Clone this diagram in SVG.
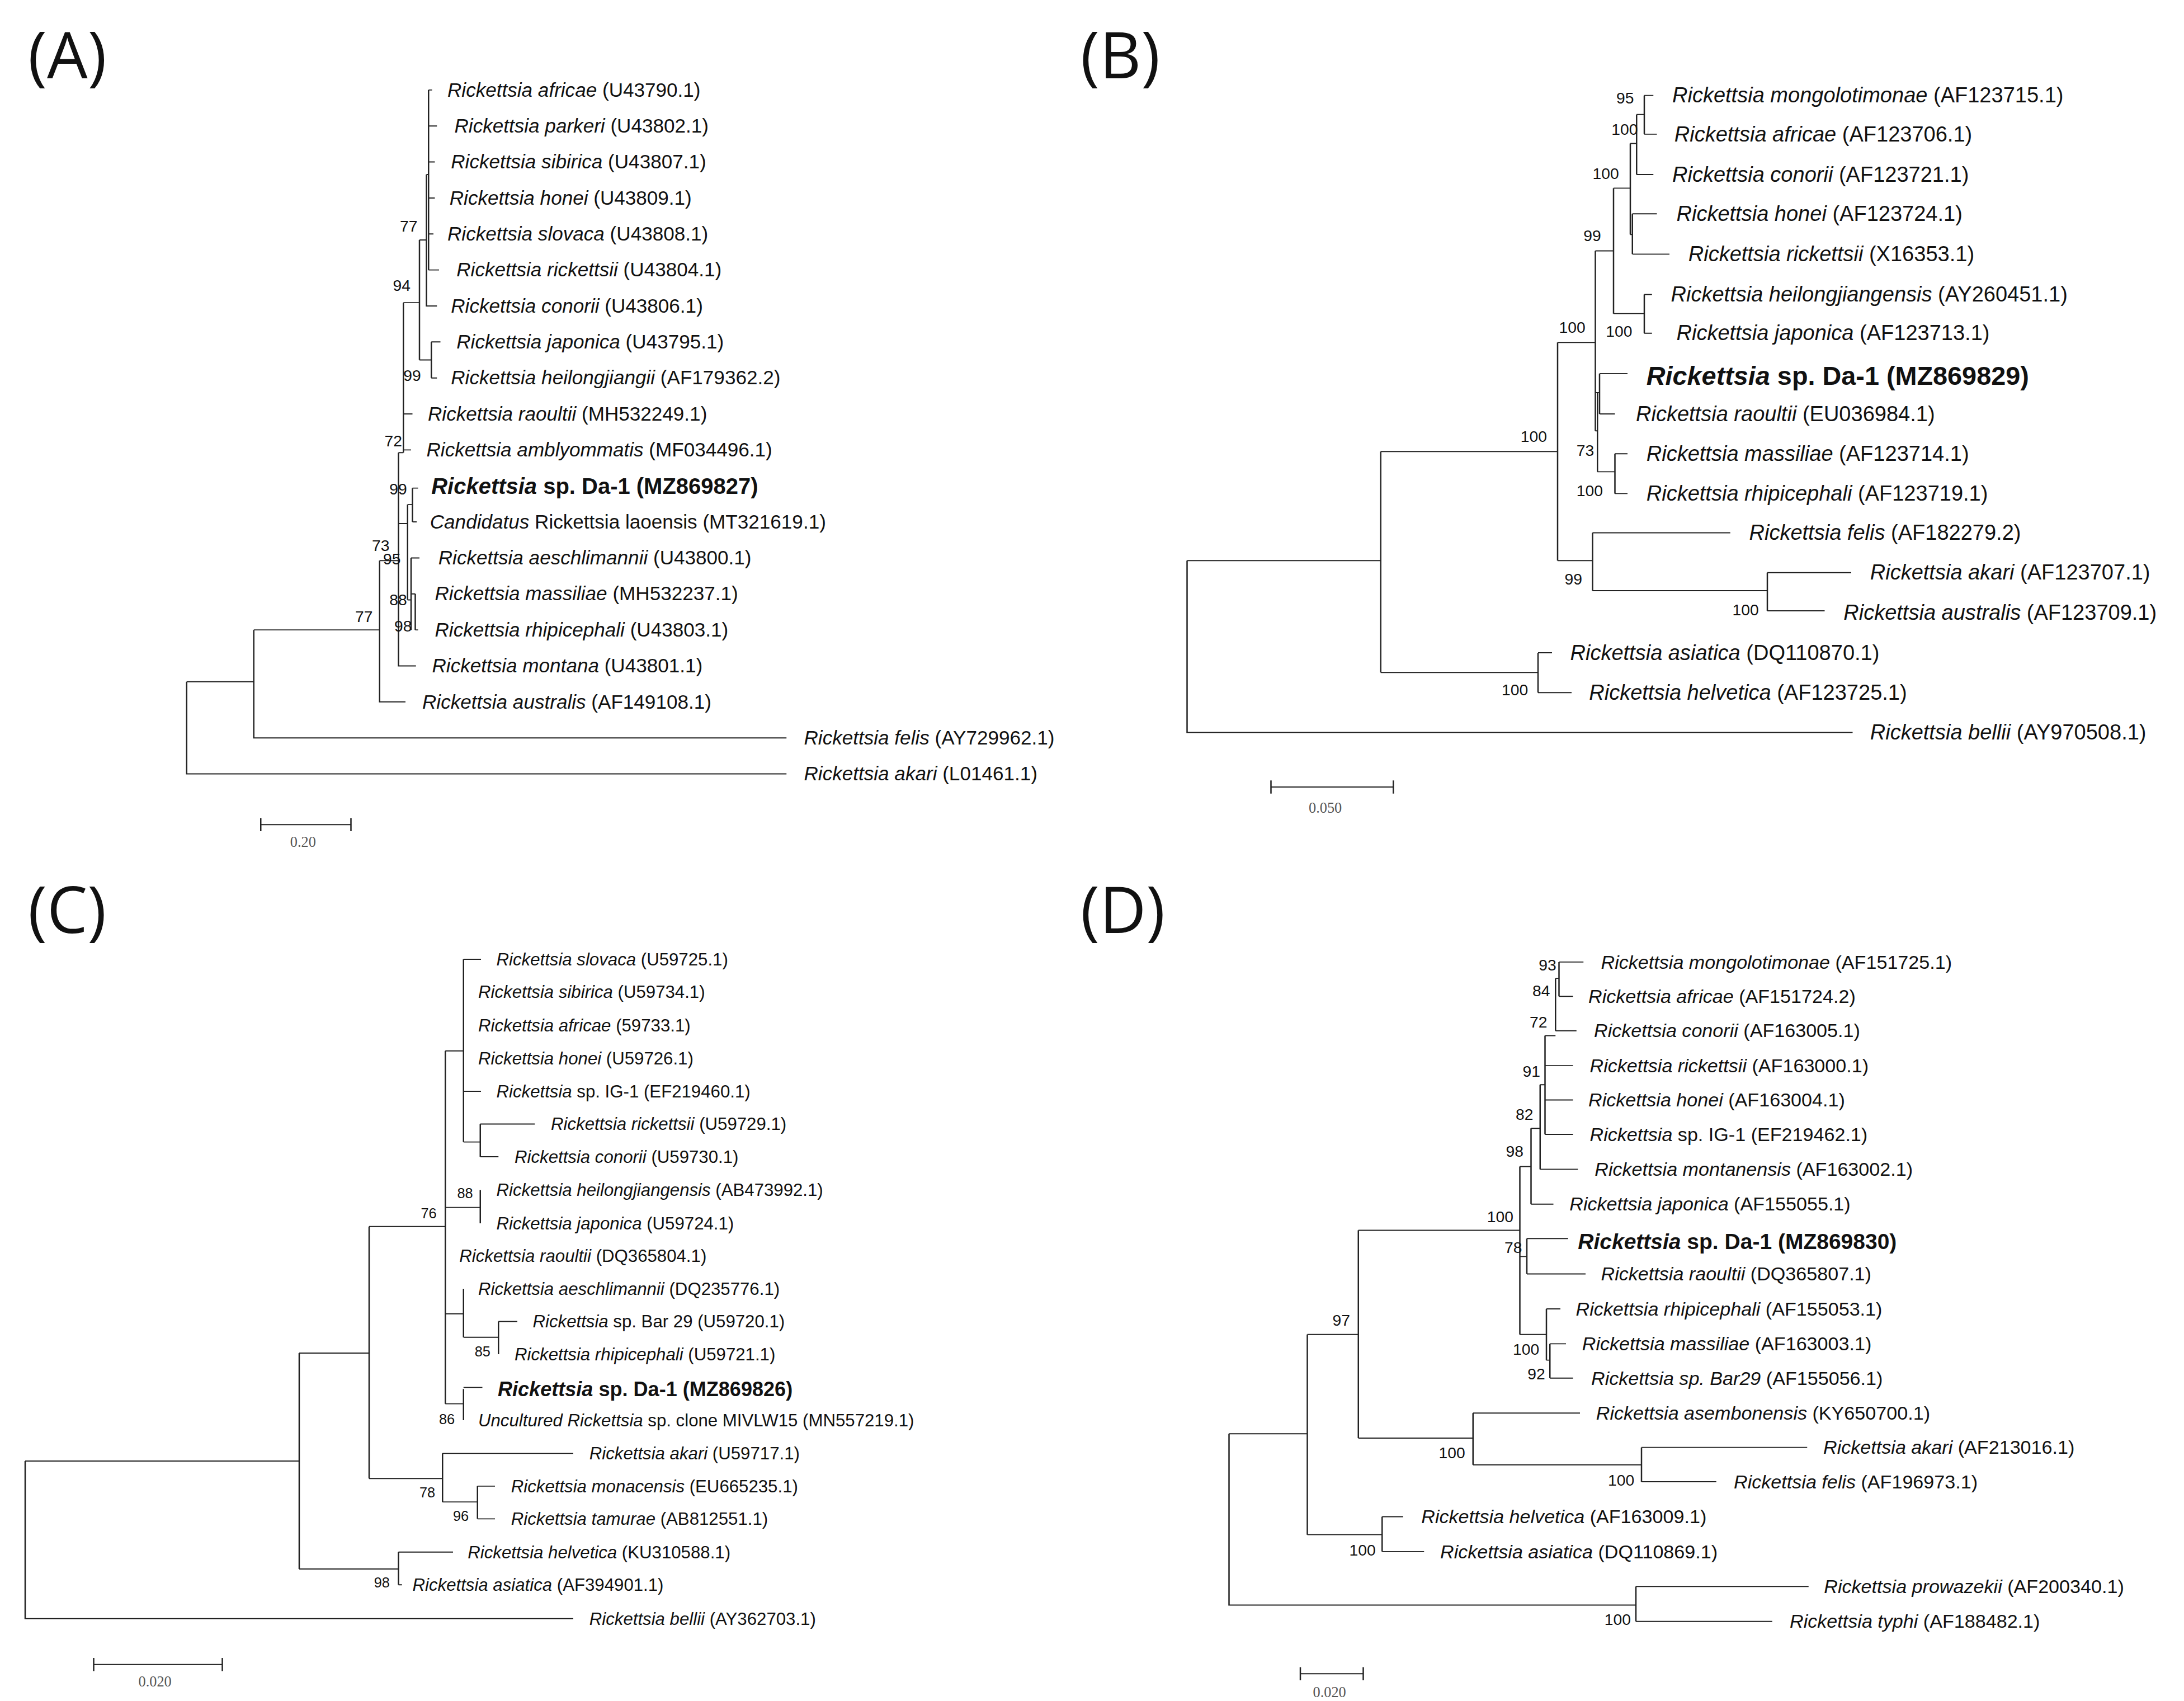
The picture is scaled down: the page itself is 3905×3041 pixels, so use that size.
<svg xmlns="http://www.w3.org/2000/svg" width="3905" height="3041" viewBox="0 0 3905 3041">
<style>
text{font-family:"Liberation Sans",Arial,sans-serif;fill:#111}
.i{font-style:italic}
.tA{font-size:36px}.tB{font-size:39px}.tC{font-size:32px}.tD{font-size:35px}
.bA{font-size:41px;font-weight:bold}.bB{font-size:48px;font-weight:bold}.bC{font-size:37px;font-weight:bold}.bD{font-size:40px;font-weight:bold}
.n{font-size:29px}.nC{font-size:26px}
.pl{font-family:"Open Sans","Liberation Sans",sans-serif;font-size:115px}
.sc{font-family:"Liberation Serif",serif;font-size:27px;fill:#555}
.e path{fill:none;stroke:#222;stroke-width:2}
</style>
<text class="pl" x="50" y="140">(A)</text>
<text class="pl" x="1932" y="140">(B)</text>
<text class="pl" x="50" y="1668">(C)</text>
<text class="pl" x="1932" y="1668">(D)</text>

<g id="panelA" transform="scale(1.25 0.975)">
<g class="e" id="edgesA"><path d="M267 1250V1419H1125M267 1250H363M363 1155V1353H1125M363 1155H543M543 1028V1287H580M543 1028H570M570 830V1221H595M570 830H577M577 555V830M577 759H590M577 825H588M577 555H600M600 440V660M600 660H617M617 627V693M617 627H630M617 693H625M600 440H610M610 320V561H625M610 320H613M613 165V495M613 165H618M613 231H625M613 297H622M613 363H622M613 429H620M613 495H628M570 960H583M583 925V1100M583 925H590M590 895V957M590 895H598M590 957H596M583 1100H588M588 1023V1155M588 1023H600M588 1089H594M594 1089V1155M594 1155H598"/></g>
<g id="taxaA" class="tA">
<text transform="translate(640 177) scale(.78 1)"><tspan class="i">Rickettsia africae</tspan> (U43790.1)</text>
<text transform="translate(650 243) scale(.78 1)"><tspan class="i">Rickettsia parkeri</tspan> (U43802.1)</text>
<text transform="translate(645 309) scale(.78 1)"><tspan class="i">Rickettsia sibirica</tspan> (U43807.1)</text>
<text transform="translate(643 375) scale(.78 1)"><tspan class="i">Rickettsia honei</tspan> (U43809.1)</text>
<text transform="translate(640 441) scale(.78 1)"><tspan class="i">Rickettsia slovaca</tspan> (U43808.1)</text>
<text transform="translate(653 507) scale(.78 1)"><tspan class="i">Rickettsia rickettsii</tspan> (U43804.1)</text>
<text transform="translate(645 573) scale(.78 1)"><tspan class="i">Rickettsia conorii</tspan> (U43806.1)</text>
<text transform="translate(653 639) scale(.78 1)"><tspan class="i">Rickettsia japonica</tspan> (U43795.1)</text>
<text transform="translate(645 705) scale(.78 1)"><tspan class="i">Rickettsia heilongjiangii</tspan> (AF179362.2)</text>
<text transform="translate(612 771) scale(.78 1)"><tspan class="i">Rickettsia raoultii</tspan> (MH532249.1)</text>
<text transform="translate(610 837) scale(.78 1)"><tspan class="i">Rickettsia amblyommatis</tspan> (MF034496.1)</text>
<text transform="translate(617 906) scale(.78 1)" class="bA"><tspan class="i">Rickettsia</tspan> sp. Da-1 (MZ869827)</text>
<text transform="translate(615 969) scale(.78 1)"><tspan class="i">Candidatus</tspan> Rickettsia laoensis (MT321619.1)</text>
<text transform="translate(627 1035) scale(.78 1)"><tspan class="i">Rickettsia aeschlimannii</tspan> (U43800.1)</text>
<text transform="translate(622 1101) scale(.78 1)"><tspan class="i">Rickettsia massiliae</tspan> (MH532237.1)</text>
<text transform="translate(622 1167) scale(.78 1)"><tspan class="i">Rickettsia rhipicephali</tspan> (U43803.1)</text>
<text transform="translate(618 1233) scale(.78 1)"><tspan class="i">Rickettsia montana</tspan> (U43801.1)</text>
<text transform="translate(604 1299) scale(.78 1)"><tspan class="i">Rickettsia australis</tspan> (AF149108.1)</text>
<text transform="translate(1150 1365) scale(.78 1)"><tspan class="i">Rickettsia felis</tspan> (AY729962.1)</text>
<text transform="translate(1150 1431) scale(.78 1)"><tspan class="i">Rickettsia akari</tspan> (L01461.1)</text>
</g>
<g class="n"><text transform="translate(508 1140) scale(.78 1)">77</text><text transform="translate(532 1010) scale(.78 1)">73</text><text transform="translate(548 1035) scale(.78 1)">95</text><text transform="translate(557 907) scale(.78 1)">99</text><text transform="translate(550 818) scale(.78 1)">72</text><text transform="translate(577 698) scale(.78 1)">99</text><text transform="translate(562 533) scale(.78 1)">94</text><text transform="translate(572 425) scale(.78 1)">77</text><text transform="translate(557 1110) scale(.78 1)">88</text><text transform="translate(564 1158) scale(.78 1)">98</text></g>
<g class="e"><path d="M373 1512H502M373 1500V1524M502 1500V1524"/></g>
<text class="sc" transform="translate(415 1553) scale(.78 1)">0.20</text>
</g>

<g id="panelB" transform="translate(1950,0) scale(1.25 0.975)">
<g class="e" id="edgesB"><path d="M138 1028V1343H1090M138 1028H415M415 828V1233M415 1233H640M640 1197V1270M640 1197H660M640 1270H688M415 828H668M668 628V1028M668 628H722M668 1028H718M718 977V1083M718 977H915M718 1083H968M968 1050V1120M968 1050H1088M968 1120H1050M722 460V790M722 460H748M748 345V575M748 345H772M772 263V430M772 263H781M781 210V320M781 210H792M792 175V246M792 175H805M792 246H810M781 320H805M772 430H775M775 392V466M775 392H810M775 466H828M748 575H792M792 540V611M792 540H803M792 611H803M722 720H728M728 685V759M728 685H768M728 759H750M722 790H725M725 720V865M725 865H750M750 832V905M750 832H768M750 905H768"/></g>
<g class="tB">
<text transform="translate(832 188) scale(.78 1)"><tspan class="i">Rickettsia mongolotimonae</tspan>  (AF123715.1)</text>
<text transform="translate(835 259) scale(.78 1)"><tspan class="i">Rickettsia africae</tspan> (AF123706.1)</text>
<text transform="translate(832 333) scale(.78 1)"><tspan class="i">Rickettsia conorii</tspan> (AF123721.1)</text>
<text transform="translate(838 405) scale(.78 1)"><tspan class="i">Rickettsia honei</tspan> (AF123724.1)</text>
<text transform="translate(855 479) scale(.78 1)"><tspan class="i">Rickettsia rickettsii</tspan> (X16353.1)</text>
<text transform="translate(830 553) scale(.78 1)"><tspan class="i">Rickettsia heilongjiangensis</tspan> (AY260451.1)</text>
<text transform="translate(838 624) scale(.78 1)"><tspan class="i">Rickettsia japonica</tspan> (AF123713.1)</text>
<text transform="translate(795 706) scale(.78 1)" class="bB"><tspan class="i">Rickettsia</tspan> sp. Da-1 (MZ869829)</text>
<text transform="translate(780 772) scale(.78 1)"><tspan class="i">Rickettsia raoultii</tspan> (EU036984.1)</text>
<text transform="translate(795 845) scale(.78 1)"><tspan class="i">Rickettsia massiliae</tspan> (AF123714.1)</text>
<text transform="translate(795 918) scale(.78 1)"><tspan class="i">Rickettsia rhipicephali</tspan> (AF123719.1)</text>
<text transform="translate(942 990) scale(.78 1)"><tspan class="i">Rickettsia felis</tspan> (AF182279.2)</text>
<text transform="translate(1115 1063) scale(.78 1)"><tspan class="i">Rickettsia akari</tspan> (AF123707.1)</text>
<text transform="translate(1077 1136) scale(.78 1)"><tspan class="i">Rickettsia australis</tspan> (AF123709.1)</text>
<text transform="translate(686 1210) scale(.78 1)"><tspan class="i">Rickettsia asiatica</tspan> (DQ110870.1)</text>
<text transform="translate(713 1283) scale(.78 1)"><tspan class="i">Rickettsia helvetica</tspan> (AF123725.1)</text>
<text transform="translate(1115 1356) scale(.78 1)"><tspan class="i">Rickettsia bellii</tspan> (AY970508.1)</text>
</g>
<g class="n"><text transform="translate(752 190) scale(.78 1)">95</text><text transform="translate(745 247) scale(.78 1)">100</text><text transform="translate(718 328) scale(.78 1)">100</text><text transform="translate(705 442) scale(.78 1)">99</text><text transform="translate(670 610) scale(.78 1)">100</text><text transform="translate(737 617) scale(.78 1)">100</text><text transform="translate(615 810) scale(.78 1)">100</text><text transform="translate(695 836) scale(.78 1)">73</text><text transform="translate(695 910) scale(.78 1)">100</text><text transform="translate(678 1072) scale(.78 1)">99</text><text transform="translate(918 1128) scale(.78 1)">100</text><text transform="translate(588 1275) scale(.78 1)">100</text></g>
<g class="e"><path d="M258 1443H433M258 1431V1455M433 1431V1455"/></g>
<text class="sc" transform="translate(312 1490) scale(.78 1)">0.050</text>
</g>

<g id="panelC" transform="translate(0,1520) scale(1.25 0.975)">
<g class="e" id="edgesC"><path d="M36 1120V1409H820M36 1120H428M428 922V1318M428 922H528M428 1318H570M570 1287V1347M570 1287H648M570 1347H575M528 690V1152M528 690H637M528 1152H633M633 1106V1195M633 1106H820M633 1195H683M683 1166V1226M683 1166H708M683 1226H708M637 368V1015M637 368H663M637 655H687M637 850H663M637 1015H663M663 200V535M663 200H688M663 442H688M663 535H687M687 502V562M687 502H765M687 562H713M687 623V684M663 804V893M663 893H713M713 864V924M713 864H740M663 988V1045M663 985H690"/></g>
<g class="tC">
<text transform="translate(710 211) scale(.78 1)"><tspan class="i">Rickettsia slovaca</tspan> (U59725.1)</text>
<text transform="translate(684 271) scale(.78 1)"><tspan class="i">Rickettsia sibirica</tspan> (U59734.1)</text>
<text transform="translate(684 332) scale(.78 1)"><tspan class="i">Rickettsia africae</tspan> (59733.1)</text>
<text transform="translate(684 393) scale(.78 1)"><tspan class="i">Rickettsia honei</tspan> (U59726.1)</text>
<text transform="translate(710 453) scale(.78 1)"><tspan class="i">Rickettsia</tspan> sp. IG-1  (EF219460.1)</text>
<text transform="translate(788 513) scale(.78 1)"><tspan class="i">Rickettsia rickettsii</tspan> (U59729.1)</text>
<text transform="translate(736 573) scale(.78 1)"><tspan class="i">Rickettsia conorii</tspan> (U59730.1)</text>
<text transform="translate(710 634) scale(.78 1)"><tspan class="i">Rickettsia heilongjiangensis</tspan> (AB473992.1)</text>
<text transform="translate(710 695) scale(.78 1)"><tspan class="i">Rickettsia japonica</tspan> (U59724.1)</text>
<text transform="translate(657 755) scale(.78 1)"><tspan class="i">Rickettsia raoultii</tspan> (DQ365804.1)</text>
<text transform="translate(684 815) scale(.78 1)"><tspan class="i">Rickettsia aeschlimannii</tspan> (DQ235776.1)</text>
<text transform="translate(762 875) scale(.78 1)"><tspan class="i">Rickettsia</tspan> sp. Bar 29 (U59720.1)</text>
<text transform="translate(736 935) scale(.78 1)"><tspan class="i">Rickettsia rhipicephali</tspan> (U59721.1)</text>
<text transform="translate(712 1001) scale(.78 1)" class="bC"><tspan class="i">Rickettsia</tspan> sp. Da-1 (MZ869826)</text>
<text transform="translate(684 1056) scale(.78 1)"><tspan class="i">Uncultured Rickettsia</tspan> sp. clone MIVLW15 (MN557219.1)</text>
<text transform="translate(843 1117) scale(.78 1)"><tspan class="i">Rickettsia akari</tspan> (U59717.1)</text>
<text transform="translate(731 1177) scale(.78 1)"><tspan class="i">Rickettsia monacensis</tspan> (EU665235.1)</text>
<text transform="translate(731 1237) scale(.78 1)"><tspan class="i">Rickettsia tamurae</tspan> (AB812551.1)</text>
<text transform="translate(669 1298) scale(.78 1)"><tspan class="i">Rickettsia helvetica</tspan> (KU310588.1)</text>
<text transform="translate(590 1358) scale(.78 1)"><tspan class="i">Rickettsia asiatica</tspan> (AF394901.1)</text>
<text transform="translate(843 1420) scale(.78 1)"><tspan class="i">Rickettsia bellii</tspan> (AY362703.1)</text>
</g>
<g class="nC"><text transform="translate(654 638) scale(.78 1)">88</text><text transform="translate(602 675) scale(.78 1)">76</text><text transform="translate(679 928) scale(.78 1)">85</text><text transform="translate(628 1052) scale(.78 1)">86</text><text transform="translate(600 1187) scale(.78 1)">78</text><text transform="translate(648 1230) scale(.78 1)">96</text><text transform="translate(535 1352) scale(.78 1)">98</text></g>
<g class="e"><path d="M134 1493H318M134 1481V1505M318 1481V1505"/></g>
<text class="sc" transform="translate(198 1533) scale(.78 1)">0.020</text>
</g>

<g id="panelD" transform="translate(1950,1520) scale(1.25 0.975)">
<g class="e" id="edgesD"><path d="M198 1070V1384H780M198 1070H310M780 1350V1414M780 1350H1027M780 1414H975M310 888V1255M310 888H383M310 1255H417M417 1222V1286M417 1222H447M417 1286H477M383 697V1078M383 697H614M383 1078H547M547 1032V1127M547 1032H700M547 1127H788M788 1095V1158M788 1095H1025M788 1158H895M614 580V888M614 580H630M614 745H624M614 888H652M652 841V935M652 841H672M652 935H657M657 905V968M657 905H680M657 968H690M624 712V777M624 712H683M624 777H708M630 510V649M630 649H662M630 510H643M643 430V585M643 585H697M643 430H650M650 340V521M650 395H690M650 458H690M650 521H690M650 340H665M665 235V331M665 331H695M665 235H670M670 205V268M670 205H705M670 268H690"/></g>
<g class="tD">
<text transform="translate(730 217) scale(.78 1)"><tspan class="i">Rickettsia mongolotimonae</tspan> (AF151725.1)</text>
<text transform="translate(712 280) scale(.78 1)"><tspan class="i">Rickettsia africae</tspan> (AF151724.2)</text>
<text transform="translate(720 343) scale(.78 1)"><tspan class="i">Rickettsia conorii</tspan> (AF163005.1)</text>
<text transform="translate(714 407) scale(.78 1)"><tspan class="i">Rickettsia rickettsii</tspan> (AF163000.1)</text>
<text transform="translate(712 470) scale(.78 1)"><tspan class="i">Rickettsia honei</tspan> (AF163004.1)</text>
<text transform="translate(714 533) scale(.78 1)"><tspan class="i">Rickettsia</tspan> sp. IG-1 (EF219462.1)</text>
<text transform="translate(721 597) scale(.78 1)"><tspan class="i">Rickettsia montanensis</tspan> (AF163002.1)</text>
<text transform="translate(685 661) scale(.78 1)"><tspan class="i">Rickettsia japonica</tspan> (AF155055.1)</text>
<text transform="translate(697 731) scale(.78 1)" class="bD"><tspan class="i">Rickettsia</tspan> sp. Da-1 (MZ869830)</text>
<text transform="translate(730 789) scale(.78 1)"><tspan class="i">Rickettsia raoultii</tspan> (DQ365807.1)</text>
<text transform="translate(694 853) scale(.78 1)"><tspan class="i">Rickettsia rhipicephali</tspan> (AF155053.1)</text>
<text transform="translate(703 917) scale(.78 1)"><tspan class="i">Rickettsia massiliae</tspan> (AF163003.1)</text>
<text transform="translate(716 980) scale(.78 1)"><tspan class="i">Rickettsia sp. Bar29</tspan> (AF155056.1)</text>
<text transform="translate(723 1044) scale(.78 1)"><tspan class="i">Rickettsia asembonensis</tspan> (KY650700.1)</text>
<text transform="translate(1048 1107) scale(.78 1)"><tspan class="i">Rickettsia akari</tspan> (AF213016.1)</text>
<text transform="translate(920 1170) scale(.78 1)"><tspan class="i">Rickettsia felis</tspan> (AF196973.1)</text>
<text transform="translate(473 1234) scale(.78 1)"><tspan class="i">Rickettsia helvetica</tspan> (AF163009.1)</text>
<text transform="translate(500 1298) scale(.78 1)"><tspan class="i">Rickettsia asiatica</tspan> (DQ110869.1)</text>
<text transform="translate(1049 1362) scale(.78 1)"><tspan class="i">Rickettsia prowazekii</tspan> (AF200340.1)</text>
<text transform="translate(1000 1426) scale(.78 1)"><tspan class="i">Rickettsia typhi</tspan> (AF188482.1)</text>
</g>
<g class="n"><text transform="translate(641 220) scale(.78 1)">93</text><text transform="translate(632 268) scale(.78 1)">84</text><text transform="translate(628 325) scale(.78 1)">72</text><text transform="translate(618 415) scale(.78 1)">91</text><text transform="translate(608 494) scale(.78 1)">82</text><text transform="translate(594 562) scale(.78 1)">98</text><text transform="translate(567 682) scale(.78 1)">100</text><text transform="translate(592 738) scale(.78 1)">78</text><text transform="translate(604 925) scale(.78 1)">100</text><text transform="translate(625 970) scale(.78 1)">92</text><text transform="translate(346 872) scale(.78 1)">97</text><text transform="translate(498 1115) scale(.78 1)">100</text><text transform="translate(740 1165) scale(.78 1)">100</text><text transform="translate(370 1293) scale(.78 1)">100</text><text transform="translate(735 1420) scale(.78 1)">100</text></g>
<g class="e"><path d="M300 1510H390M300 1498V1522M390 1498V1522"/></g>
<text class="sc" transform="translate(318 1553) scale(.78 1)">0.020</text>
</g>
</svg>
